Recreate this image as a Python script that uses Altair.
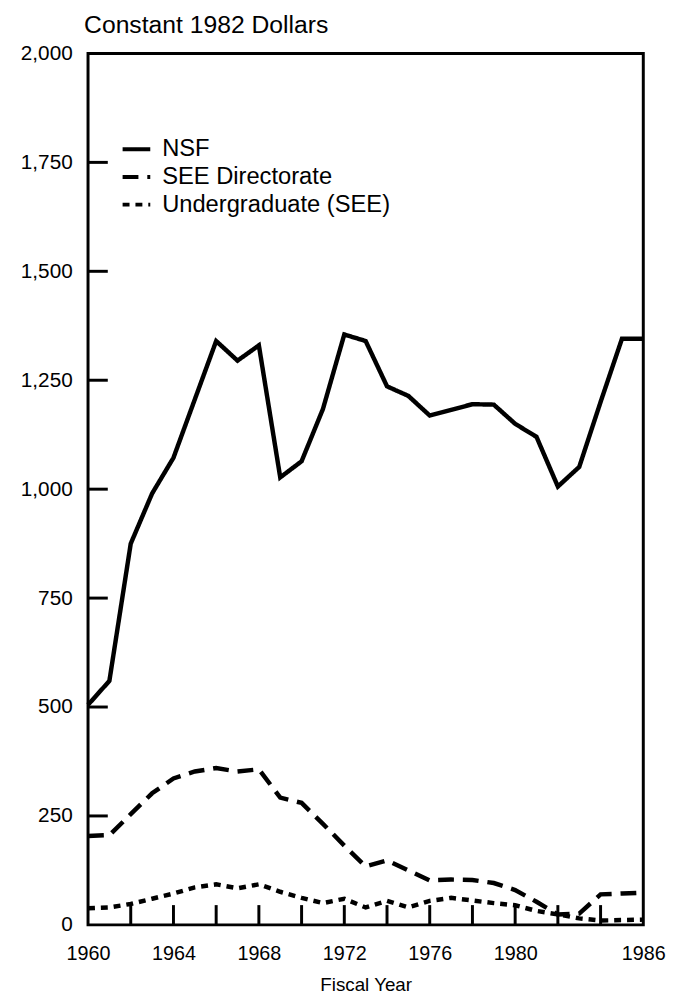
import altair as alt
import pandas as pd

years = list(range(1960, 1987))
nsf = [505, 560, 875, 990, 1072, 1206, 1340, 1295, 1330, 1027, 1064, 1184, 1355, 1340,
       1236, 1214, 1169, 1182, 1195, 1194, 1150, 1120, 1006, 1051, 1200, 1345, 1345]
see = [204, 206, 254, 302, 336, 352, 360, 352, 357, 292, 280, 232, 182, 134,
       148, 125, 102, 104, 103, 96, 80, 53, 24, 26, 70, 72, 74]
undergrad = [38, 40, 48, 60, 72, 86, 93, 84, 93, 76, 62, 50, 60, 40,
             55, 40, 55, 62, 56, 50, 45, 32, 24, 15, 10, 11, 12]

series_names = ["NSF", "SEE Directorate", "Undergraduate (SEE)"]
x_label_years = [1960, 1964, 1968, 1972, 1976, 1980, 1986]
x_tick_years = list(range(1962, 1986, 2))
y_label_values = [0, 250, 500, 750, 1000, 1250, 1500, 1750, 2000]
y_tick_values = [250, 500, 750, 1000, 1250, 1500, 1750]

rows = []
for name, vals in zip(series_names, [nsf, see, undergrad]):
    for yr, v in zip(years, vals):
        rows.append({"year": yr, "value": v, "series": name})
df = pd.DataFrame(rows)

FONT = "Liberation Sans"
W, H = 562, 882

xscale = alt.Scale(domain=[1960, 1986], nice=False, zero=False)
yscale = alt.Scale(domain=[0, 2000], nice=False)

lines = alt.Chart(df).mark_line(strokeWidth=4.5, color="black", strokeJoin="miter").encode(
    x=alt.X("year:Q", scale=xscale,
            axis=alt.Axis(values=x_label_years, format="d", tickSize=0, domain=False, grid=False,
                          labelFlush=False, labelOverlap=False,
                          labelFontSize=20, labelPadding=19, labelFont=FONT, labelColor="black",
                          title="Fiscal Year", titleFont=FONT, titleFontSize=19,
                          titleFontWeight="normal", titleColor="black", titlePadding=12)),
    y=alt.Y("value:Q", scale=yscale,
            axis=alt.Axis(values=y_label_values, format=",d", tickSize=0, domain=False, grid=False,
                          labelFlush=False, labelOverlap=False,
                          labelFontSize=21, labelPadding=16, labelFont=FONT, labelColor="black",
                          title=None)),
    strokeDash=alt.StrokeDash(
        "series:N",
        sort=series_names,
        scale=alt.Scale(domain=series_names, range=[[1, 0], [16, 9], [7, 6]]),
        legend=alt.Legend(title=None, orient="none", legendX=33, legendY=81,
                          symbolType="stroke", symbolSize=784, symbolStrokeWidth=4,
                          symbolStrokeColor="black", labelFontSize=24, labelFont=FONT,
                          labelColor="black", labelOffset=10, rowPadding=0, labelLimit=0),
    ),
)

ytick_df = pd.DataFrame({"v": y_tick_values})
yticks = alt.Chart(ytick_df).mark_rule(color="black", strokeWidth=3).encode(
    y=alt.Y("v:Q", scale=yscale), x=alt.value(0), x2=alt.value(20)
)

xtick_df = pd.DataFrame({"yr": x_tick_years})
xticks = alt.Chart(xtick_df).mark_rule(color="black", strokeWidth=3).encode(
    x=alt.X("yr:Q", scale=xscale), y=alt.value(H), y2=alt.value(H - 20)
)

chart = alt.layer(lines, yticks, xticks).properties(
    width=W, height=H,
    title=alt.TitleParams("Constant 1982 Dollars", anchor="start", frame="group", font=FONT,
                          fontSize=25, fontWeight="normal", color="black", offset=5, dx=-4),
    autosize=alt.AutoSizeParams(type="none"),
    padding={"left": 81, "top": 40, "right": 24, "bottom": 67},
).configure(background="white").configure_view(stroke="black", strokeWidth=3)

chart.save("out.html", embed_options={"renderer": "svg", "actions": False})
